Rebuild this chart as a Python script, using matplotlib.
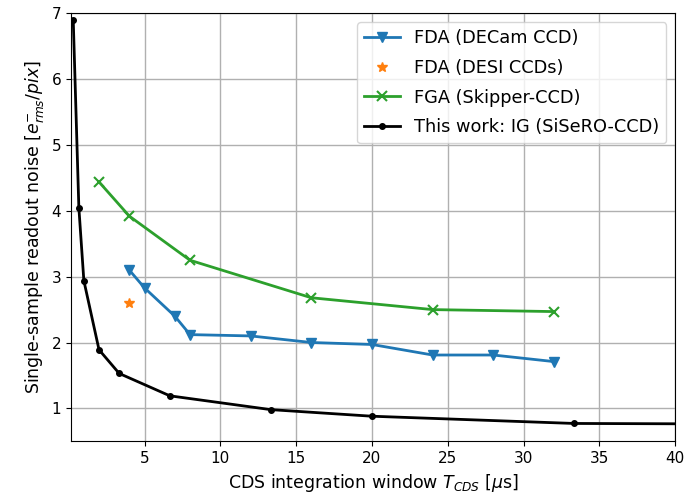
import matplotlib
matplotlib.use("Agg")
import matplotlib.pyplot as plt

# FDA readout on DECam CCD
decam_t = [4, 5, 7, 8, 12, 16, 20, 24, 28, 32]
decam_noise = [3.10, 2.83, 2.40, 2.12, 2.10, 2.00, 1.97, 1.81, 1.81, 1.71]

# FDA readout on DESI CCDs
desi_t = [4]
desi_noise = [2.60]

# FGA readout on Skipper-CCD
skipper_t = [2, 4, 8, 16, 24, 32]
skipper_noise = [4.44, 3.92, 3.25, 2.68, 2.50, 2.47]

# IG readout on SiSeRO-CCD (this work)
sisero_t = [0.3, 0.67, 1.0, 2.0, 3.33, 6.67, 13.33, 20.0, 33.33, 66.67]
sisero_noise = [6.90, 4.05, 2.94, 1.89, 1.53, 1.19, 0.98, 0.88, 0.77, 0.745]

fig = plt.figure(figsize=(6.89, 4.98), dpi=100)
ax = fig.add_axes([0.103, 0.114, 0.877, 0.859])

ax.plot(decam_t, decam_noise, color="#1f77b4", marker="v", ms=7, lw=2,
        label="FDA (DECam CCD)")
ax.plot(desi_t, desi_noise, color="#ff7f0e", marker="*", ms=7, ls="none",
        label="FDA (DESI CCDs)")
ax.plot(skipper_t, skipper_noise, color="#2ca02c", marker="x", ms=7, mew=1.5,
        lw=2, label="FGA (Skipper-CCD)")
ax.plot(sisero_t, sisero_noise, color="black", marker=".", ms=8, lw=2,
        label="This work: IG (SiSeRO-CCD)")

ax.set_xlim(0.15, 40)
ax.set_ylim(0.5, 7)
ax.set_xticks([5, 10, 15, 20, 25, 30, 35, 40])
ax.set_yticks([1, 2, 3, 4, 5, 6, 7])
ax.tick_params(labelsize=11)
ax.grid(True, color="#b0b0b0", lw=1)

ax.set_xlabel(r"CDS integration window $T_{CDS}$ [$\mu$s]", fontsize=12.5)
ax.set_ylabel(r"Single-sample readout noise [$e^{-}_{rms}/pix$]", fontsize=12.5)

ax.legend(loc="upper right", fontsize=12.8, labelspacing=0.65)

fig.savefig("out.png", dpi=100)
